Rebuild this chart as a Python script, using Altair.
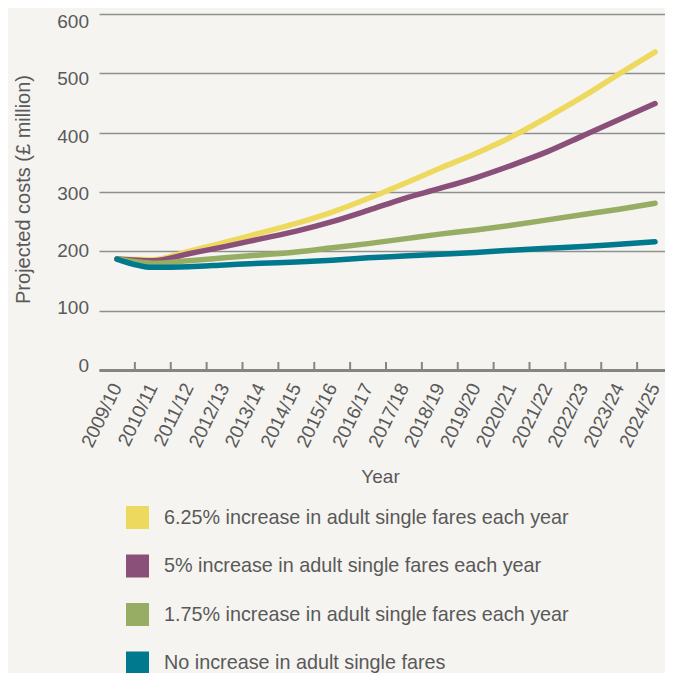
import altair as alt
import pandas as pd

years = ["2009/10", "2010/11", "2011/12", "2012/13", "2013/14", "2014/15", "2015/16", "2016/17",
         "2017/18", "2018/19", "2019/20", "2020/21", "2021/22", "2022/23", "2023/24", "2024/25"]

series_names = [
    "6.25% increase in adult single fares each year",
    "5% increase in adult single fares each year",
    "1.75% increase in adult single fares each year",
    "No increase in adult single fares",
]

yellow = [187, 186, 200, 215, 231, 247, 266, 289, 314, 340, 365, 393, 426, 461, 499, 536]
purple = [187, 184, 196, 208, 221, 234, 250, 269, 289, 306, 324, 345, 368, 395, 422, 449]
green = [187, 180, 184, 189, 194, 199, 206, 213, 221, 229, 236, 244, 253, 262, 271, 281]
teal = [187, 173, 174, 177, 180, 182, 185, 189, 192, 195, 198, 202, 205, 208, 212, 216]

colors = ["#eed95f", "#8a5079", "#96ad63", "#00798f"]
y_ticks = [0, 100, 200, 300, 400, 500, 600]

FONT = "Liberation Sans"
TXT = "#595959"
W, H = 566, 356

rows = []
for name, vals in zip(series_names, [yellow, purple, green, teal]):
    for yr, v in zip(years, vals):
        rows.append({"year": yr, "cost": v, "scenario": name})
df = pd.DataFrame(rows)

xscale = alt.Scale(type="band", domain=years, range=[0, 574], paddingInner=0, paddingOuter=0)
yscale = alt.Scale(domain=[0, 600], nice=False)

x_axis = alt.Axis(title="Year", labelAngle=296, labelAlign="right", labelBaseline="middle",
                  labelPadding=14, ticks=False, domainColor="#858585", domainWidth=3,
                  labelFont=FONT, labelFontSize=19, labelColor=TXT, grid=False, labelOverlap=False,
                  titleFont=FONT, titleFontSize=19, titleFontWeight="normal", titleColor=TXT,
                  titleX=281, titleY=106, titleAlign="center", titleBaseline="middle")
y_axis = alt.Axis(title="Projected costs (£ million)", labels=False, ticks=False, domain=False,
                  grid=True, gridColor="#8f8f8f", gridWidth=1.5, values=y_ticks,
                  titleFont=FONT, titleFontSize=20, titleFontWeight="normal", titleColor=TXT,
                  titleX=-76, titleY=175, titleAngle=270, titleAlign="center",
                  titleBaseline="middle")

color_scale = alt.Scale(domain=series_names, range=colors)

lines = alt.Chart(df).mark_line(strokeWidth=5.5, strokeCap="round", strokeJoin="round",
                                interpolate="monotone").encode(
    x=alt.X("year:O", scale=xscale, bandPosition=0.5, axis=x_axis),
    y=alt.Y("cost:Q", scale=yscale, axis=y_axis),
    color=alt.Color("scenario:N", scale=color_scale,
                    legend=alt.Legend(orient="none", legendX=27, legendY=492, direction="vertical",
                                      title=None, symbolType="square", symbolSize=132.25,
                                      symbolStrokeWidth=11.5, symbolOpacity=1, labelFont=FONT,
                                      labelFontSize=19.8, labelColor=TXT, labelOffset=15,
                                      rowPadding=-10.5, padding=0, labelLimit=0)),
)

tick_df = pd.DataFrame({"year": years[1:]})
ticks = alt.Chart(tick_df).mark_rule(color="#858585", strokeWidth=2).encode(
    x=alt.X("year:O", scale=xscale, bandPosition=0, axis=x_axis),
    y=alt.value(H),
    y2=alt.value(H - 8),
)

ylab_df = pd.DataFrame({"v": y_ticks, "label": [str(v) for v in y_ticks]})
ylabels = alt.Chart(ylab_df).mark_text(align="right", baseline="middle", font=FONT, fontSize=19,
                                       color=TXT).encode(
    x=alt.value(-10),
    y=alt.Y("v:Q", scale=alt.Scale(domain=[-7.5, 613.8], nice=False, zero=False), axis=None),
    text="label:N",
)

chart = alt.layer(lines, ticks, ylabels).resolve_scale(y="independent").properties(
    width=W, height=H,
    padding={"left": 91, "top": 6, "right": 0, "bottom": 303},
    autosize=alt.AutoSizeParams(type="none"),
).configure(background="#f5f4f0").configure_view(stroke=None)

chart.save("out.html", embed_options={"renderer": "svg", "actions": False})
